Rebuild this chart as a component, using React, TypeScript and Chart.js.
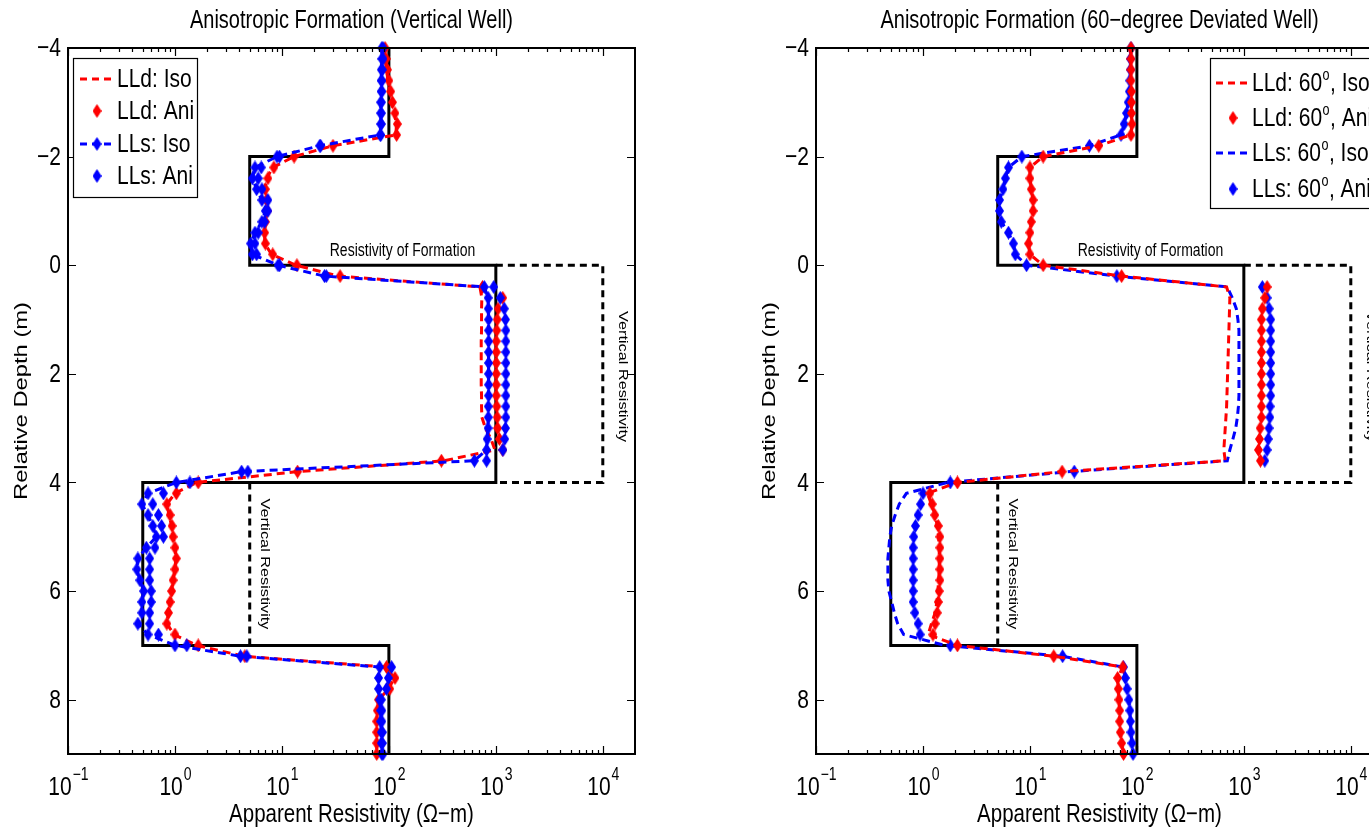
import React, { useEffect, useRef } from "react";
import { Chart, registerables } from "chart.js";

Chart.register(...registerables);

// ---------- data ----------
const DEPTH = [
  -4.0, -3.8, -3.6, -3.4, -3.2, -3.0, -2.8, -2.6, -2.4, -2.2,
  -2.0, -1.8, -1.6, -1.4, -1.2, -1.0, -0.8, -0.6, -0.4, -0.2,
  0.0, 0.2, 0.4, 0.6, 0.8, 1.0, 1.2, 1.4, 1.6, 1.8,
  2.0, 2.2, 2.4, 2.6, 2.8, 3.0, 3.2, 3.4, 3.6, 3.8,
  4.0, 4.2, 4.4, 4.6, 4.8, 5.0, 5.2, 5.4, 5.6, 5.8,
  6.0, 6.2, 6.4, 6.6, 6.8, 7.0, 7.2, 7.4, 7.6, 7.8,
  8.0, 8.2, 8.4, 8.6, 8.8, 9.0,
];

// Vertical well
const V_LLD_ISO = [
  90, 92, 95, 98, 102, 106, 112, 118, 116, 30,
  13, 8.2, 7.2, 6.9, 7.1, 7.2, 7.0, 6.9, 6.9, 8.0,
  13.5, 34, 710, 740, 735, 735, 735, 730, 730, 730,
  730, 730, 735, 735, 740, 800, 900, 980, 330, 14,
  1.6, 1.0, 0.84, 0.88, 0.93, 0.96, 1.0, 1.02, 1.0, 0.96,
  0.93, 0.9, 0.87, 0.84, 0.98, 1.6, 4.4, 95, 112, 100,
  80, 78, 77, 77, 77, 77,
];
const V_LLD_ANI = [
  92, 94, 97, 100, 104, 108, 114, 120, 118, 30,
  13, 8.4, 7.4, 7.0, 7.2, 7.3, 7.0, 6.9, 7.0, 8.2,
  13.8, 35, 750, 1160, 1050, 1030, 1020, 1010, 1010, 1010,
  1010, 1010, 1010, 1020, 1030, 1040, 1080, 1160, 310, 14,
  1.65, 1.03, 0.84, 0.9, 0.94, 0.96, 1.0, 1.03, 1.0, 0.96,
  0.93, 0.9, 0.87, 0.84, 1.0, 1.65, 4.5, 95, 114, 102,
  80, 78, 77, 77, 77, 77,
];
const V_LLS_ISO = [
  86, 86, 85, 85, 85, 84, 84, 84, 83, 22.6,
  9.0, 5.6, 5.3, 5.8, 6.5, 7.0, 6.5, 5.6, 5.1, 5.3,
  9.2, 25, 780, 848, 850, 855, 855, 855, 855, 855,
  855, 855, 855, 850, 850, 845, 830, 820, 630, 4.2,
  1.03, 0.56, 0.49, 0.56, 0.62, 0.67, 0.54, 0.45, 0.44, 0.47,
  0.51, 0.49, 0.49, 0.45, 0.56, 1.0, 4.1, 82, 80, 80,
  82, 84, 84, 85, 85, 86,
];
const V_LLS_ANI = [
  88, 88, 87, 86, 86, 85, 85, 85, 84, 23,
  9.5, 6.4, 6.0, 6.5, 7.4, 7.4, 6.9, 6.0, 5.6, 5.8,
  9.5, 26, 955, 1100, 1200, 1230, 1240, 1240, 1240, 1240,
  1240, 1240, 1240, 1240, 1240, 1230, 1210, 1165, 820, 4.8,
  1.38, 0.78, 0.62, 0.7, 0.75, 0.78, 0.65, 0.58, 0.58, 0.58,
  0.6, 0.6, 0.58, 0.58, 0.7, 1.29, 4.7, 106, 99, 95,
  85, 86, 86, 87, 87, 88,
];

// 60-degree deviated well
const D_LLD_ISO = [
  88, 88, 88, 88, 89, 89, 89, 90, 88, 44,
  13.3, 10.0, 10.0, 10.3, 10.7, 10.7, 10.3, 10.0, 9.7, 10.0,
  13.3, 72, 690, 740, 735, 730, 725, 720, 715, 710,
  705, 700, 695, 690, 680, 670, 660, 650, 670, 20,
  2.1, 1.1, 1.2, 1.3, 1.36, 1.4, 1.42, 1.42, 1.42, 1.4,
  1.38, 1.35, 1.3, 1.2, 1.12, 2.1, 16.7, 74, 66, 67,
  68, 69, 69, 70, 72, 75,
];
const D_LLD_ANI = [
  88, 88, 88, 88, 89, 89, 89, 90, 88, 44,
  13.3, 10.0, 10.0, 10.3, 10.7, 10.7, 10.3, 10.0, 9.7, 10.0,
  13.3, 72, 1650, 1570, 1490, 1460, 1460, 1460, 1460, 1460,
  1460, 1460, 1460, 1460, 1460, 1420, 1400, 1370, 1430, 20,
  2.1, 1.16, 1.22, 1.29, 1.39, 1.44, 1.44, 1.44, 1.44, 1.44,
  1.42, 1.39, 1.36, 1.3, 1.24, 2.1, 16.7, 74, 66, 67,
  68, 69, 69, 70, 72, 75,
];
const D_LLS_ISO = [
  88, 87, 87, 86, 85, 83, 80, 76, 71, 36,
  8.4, 6.3, 5.9, 5.6, 5.2, 5.2, 5.4, 6.3, 7.0, 7.3,
  9.3, 65, 700, 780, 850, 880, 900, 900, 900, 900,
  900, 900, 900, 890, 870, 840, 790, 740, 700, 24,
  1.7, 0.7, 0.6, 0.55, 0.51, 0.49, 0.48, 0.47, 0.47, 0.47,
  0.48, 0.51, 0.54, 0.58, 0.66, 1.6, 20, 75, 78, 81,
  84, 86, 87, 88, 90, 92,
];
const D_LLS_ANI = [
  88, 87, 87, 86, 85, 83, 80, 76, 71, 36,
  8.4, 6.3, 5.9, 5.6, 5.2, 5.2, 5.4, 6.3, 7.0, 7.3,
  9.3, 65, 1490, 1650, 1725, 1780, 1780, 1780, 1780, 1780,
  1780, 1780, 1780, 1760, 1750, 1720, 1690, 1650, 1570, 26,
  1.8, 1.0, 0.95, 0.9, 0.85, 0.82, 0.81, 0.81, 0.81, 0.81,
  0.81, 0.81, 0.84, 0.9, 0.94, 1.8, 20.2, 75, 78, 81,
  84, 86, 87, 88, 90, 92,
];

// Formation model
const FORMATION_DEPTH = [-4, -2, -2, 0, 0, 4, 4, 7, 7, 9];
const FORMATION_RES = [100, 100, 5, 5, 1000, 1000, 0.5, 0.5, 100, 100];
const VERT_RES_A_DEPTH = [0, 0, 4, 4];
const VERT_RES_A = [1000, 10000, 10000, 1000];
const VERT_RES_B_DEPTH = [4, 7];
const VERT_RES_B = [5, 5];

// Axes
const X_MIN = 0.1;
const X_MAX = 20000;
const Y_MIN = -4;
const Y_MAX = 9;
const X_TICK_VALUES = [0.1, 1, 10, 100, 1000, 10000];
const X_TICK_EXPONENTS = ["\u22121", "0", "1", "2", "3", "4"];
const Y_TICK_VALUES = [-4, -2, 0, 2, 4, 6, 8];
const Y_TICK_LABELS = ["\u22124", "\u22122", "0", "2", "4", "6", "8"];

const TITLES = [
  "Anisotropic Formation (Vertical Well)",
  "Anisotropic Formation (60\u2212degree Deviated Well)",
];
const X_LABEL = "Apparent Resistivity (\u03A9\u2212m)";
const Y_LABEL = "Relative Depth (m)";
const LEGEND_V = ["LLd: Iso", "LLd: Ani", "LLs: Iso", "LLs: Ani"];
const LEGEND_D = ["LLd: 60\u00B0, Iso", "LLd: 60\u00B0, Ani", "LLs: 60\u00B0, Iso", "LLs: 60\u00B0, Ani"];
const ANNOT_FORMATION = "Resistivity of Formation";
const ANNOT_VERTICAL = "Vertical Resistivity";

// ---------- styling ----------
const RED = "#ff0000";
const BLUE = "#0000ff";
const FONT = '"Liberation Sans", Arial, Helvetica, sans-serif';
const SY = 1.25;
const CW = 684;
const CH = 828;

function makeDiamond(color: string, w: number, h: number) {
  const c = document.createElement("canvas");
  c.width = w;
  c.height = h;
  const g = c.getContext("2d")!;
  g.fillStyle = color;
  g.beginPath();
  g.moveTo(w / 2, 0);
  g.lineTo(w, h / 2);
  g.lineTo(w / 2, h);
  g.lineTo(0, h / 2);
  g.closePath();
  g.fill();
  return c;
}

function txt(
  ctx: CanvasRenderingContext2D,
  s: string,
  x: number,
  y: number,
  size: number,
  align: CanvasTextAlign = "left",
  baseline: CanvasTextBaseline = "alphabetic",
  rot = 0
) {
  ctx.save();
  ctx.translate(x, y);
  ctx.scale(1, SY);
  if (rot) ctx.rotate(rot);
  ctx.font = `${size}px ${FONT}`;
  ctx.textAlign = align;
  ctx.textBaseline = baseline;
  ctx.fillStyle = "#000";
  ctx.fillText(s, 0, 0);
  ctx.restore();
}

function measure(ctx: CanvasRenderingContext2D, s: string, size: number) {
  ctx.save();
  ctx.font = `${size}px ${FONT}`;
  const w = ctx.measureText(s).width;
  ctx.restore();
  return w;
}

function legendText(ctx: CanvasRenderingContext2D, s: string, x: number, y: number, size: number) {
  const parts = s.split("\u00B0");
  let cx = x;
  parts.forEach((p, i) => {
    txt(ctx, p, cx, y, size, "left", "middle");
    cx += measure(ctx, p, size);
    if (i < parts.length - 1) {
      const ss = size * 0.6;
      txt(ctx, "o", cx + 0.5, y - 8, ss, "left", "middle");
      cx += measure(ctx, "o", ss) + 1;
    }
  });
}

function pts(xs: number[], ys: number[]) {
  return ys.map((y, i) => ({ x: xs[i], y }));
}

type LegendSpec = {
  x: number;
  y: number;
  w: number;
  h: number;
  rows: number[];
  lineX0: number;
  lineX1: number;
  markX: number;
  textX: number;
  labels: string[];
  entries: { color: string; line: boolean; marker: boolean }[];
};

function makePlugin(idx: number, legend: LegendSpec, diamonds: Record<string, HTMLCanvasElement>) {
  return {
    id: "decor" + idx,
    afterDraw(chart: any) {
      const ctx: CanvasRenderingContext2D = chart.ctx;
      const a = chart.chartArea;
      const xs = chart.scales.x;
      const ys = chart.scales.y;
      ctx.save();
      // box
      ctx.strokeStyle = "#000";
      ctx.lineWidth = 2;
      ctx.strokeRect(a.left, a.top, a.right - a.left, a.bottom - a.top);
      // ticks
      ctx.lineWidth = 1.2;
      ctx.beginPath();
      for (let d = -1; d <= 4; d++) {
        for (let m = 1; m <= 9; m++) {
          const v = m * Math.pow(10, d);
          if (v < X_MIN || v >= X_MAX) continue;
          const px = Math.round(xs.getPixelForValue(v)) + 0.5;
          const len = m === 1 ? 8 : 4;
          ctx.moveTo(px, a.bottom);
          ctx.lineTo(px, a.bottom - len);
          ctx.moveTo(px, a.top);
          ctx.lineTo(px, a.top + len);
        }
      }
      Y_TICK_VALUES.forEach((v) => {
        const py = Math.round(ys.getPixelForValue(v)) + 0.5;
        ctx.moveTo(a.left, py);
        ctx.lineTo(a.left + 8, py);
        ctx.moveTo(a.right, py);
        ctx.lineTo(a.right - 8, py);
      });
      ctx.stroke();

      // tick labels
      X_TICK_VALUES.forEach((v, i) => {
        const px = xs.getPixelForValue(v);
        const wb = measure(ctx, "10", 21);
        const we = measure(ctx, X_TICK_EXPONENTS[i], 14);
        const x0 = px - (wb + we) / 2;
        txt(ctx, "10", x0, 795, 21);
        txt(ctx, X_TICK_EXPONENTS[i], x0 + wb + 1, 780, 14);
      });
      Y_TICK_VALUES.forEach((v, i) => {
        const py = ys.getPixelForValue(v);
        txt(ctx, Y_TICK_LABELS[i], a.left - 7, py + 1, 21, "right", "middle");
      });

      // titles and axis labels
      const cx = (a.left + a.right) / 2;
      txt(ctx, TITLES[idx], cx, 28, 20, "center");
      txt(ctx, X_LABEL, cx, 822, 20.5, "center");
      txt(ctx, Y_LABEL, 22, (a.top + a.bottom) / 2, 19, "center", "middle", -Math.PI / 2);

      // annotations
      txt(ctx, ANNOT_FORMATION, xs.getPixelForValue(28), ys.getPixelForValue(-0.17), 14, "left");
      txt(ctx, ANNOT_VERTICAL, xs.getPixelForValue(10000) + 20, ys.getPixelForValue(2.05), 13, "center", "middle", Math.PI / 2);
      txt(ctx, ANNOT_VERTICAL, xs.getPixelForValue(5) + 15, ys.getPixelForValue(5.5), 13, "center", "middle", Math.PI / 2);

      // legend
      ctx.fillStyle = "#fff";
      ctx.fillRect(legend.x, legend.y, legend.w, legend.h);
      ctx.strokeStyle = "#000";
      ctx.lineWidth = 1.2;
      ctx.strokeRect(legend.x + 0.5, legend.y + 0.5, legend.w, legend.h);
      legend.entries.forEach((e, i) => {
        const y = legend.rows[i];
        if (e.line) {
          ctx.save();
          ctx.strokeStyle = e.color;
          ctx.lineWidth = 3;
          ctx.setLineDash([7, 5]);
          ctx.beginPath();
          ctx.moveTo(legend.lineX0, y);
          ctx.lineTo(legend.lineX1, y);
          ctx.stroke();
          ctx.restore();
        }
        if (e.marker) {
          const img = diamonds[e.color];
          ctx.drawImage(img, legend.markX - img.width / 2, y - img.height / 2);
        }
        legendText(ctx, legend.labels[i], legend.textX, y + 1, 21);
      });
      ctx.restore();
    },
  };
}

function buildConfig(idx: number) {
  const redD = makeDiamond(RED, 9, 14);
  const blueD = makeDiamond(BLUE, 9, 14);
  const diamonds: Record<string, HTMLCanvasElement> = { [RED]: redD, [BLUE]: blueD };
  const isV = idx === 0;
  const lldIso = isV ? V_LLD_ISO : D_LLD_ISO;
  const lldAni = isV ? V_LLD_ANI : D_LLD_ANI;
  const llsIso = isV ? V_LLS_ISO : D_LLS_ISO;
  const llsAni = isV ? V_LLS_ANI : D_LLS_ANI;
  const labels = isV ? LEGEND_V : LEGEND_D;

  const dashed = (color: string) => ({
    showLine: true,
    borderColor: color,
    backgroundColor: color,
    borderWidth: 3,
    borderDash: [8, 5],
    pointRadius: 0,
    clip: false as any,
  });
  const markers = (img: HTMLCanvasElement) => ({
    showLine: false,
    pointStyle: img,
    pointRadius: 4,
    clip: false as any,
  });

  const datasets: any[] = [
    { label: labels[3], data: pts(llsAni, DEPTH), ...markers(blueD), order: isV ? 0 : 2 },
    isV
      ? { label: labels[2], data: pts(llsIso, DEPTH), ...dashed(BLUE), pointStyle: blueD, pointRadius: 4, order: 1 }
      : { label: labels[2], data: pts(llsIso, DEPTH), ...dashed(BLUE), order: 3 },
    { label: labels[1], data: pts(lldAni, DEPTH), ...markers(redD), order: isV ? 2 : 0 },
    { label: labels[0], data: pts(lldIso, DEPTH), ...dashed(RED), order: isV ? 3 : 1 },
    {
      label: "Formation",
      data: pts(FORMATION_RES, FORMATION_DEPTH),
      showLine: true,
      borderColor: "#000",
      borderWidth: 3,
      pointRadius: 0,
      order: 10,
      clip: false,
    },
    {
      label: "Vertical A",
      data: pts(VERT_RES_A, VERT_RES_A_DEPTH),
      showLine: true,
      borderColor: "#000",
      borderWidth: 3,
      borderDash: [7, 5],
      pointRadius: 0,
      order: 11,
      clip: false,
    },
    {
      label: "Vertical B",
      data: pts(VERT_RES_B, VERT_RES_B_DEPTH),
      showLine: true,
      borderColor: "#000",
      borderWidth: 3,
      borderDash: [7, 5],
      pointRadius: 0,
      order: 11,
      clip: false,
    },
  ];

  const legend: LegendSpec = isV
    ? {
        x: 73, y: 58, w: 124, h: 139,
        rows: [79, 111, 144, 176],
        lineX0: 80, lineX1: 114, markX: 97, textX: 117,
        labels,
        entries: [
          { color: RED, line: true, marker: false },
          { color: RED, line: false, marker: true },
          { color: BLUE, line: true, marker: true },
          { color: BLUE, line: false, marker: true },
        ],
      }
    : {
        x: 462, y: 58, w: 260, h: 150,
        rows: [83, 118, 153, 189],
        lineX0: 468, lineX1: 502, markX: 485, textX: 504,
        labels,
        entries: [
          { color: RED, line: true, marker: false },
          { color: RED, line: false, marker: true },
          { color: BLUE, line: true, marker: false },
          { color: BLUE, line: false, marker: true },
        ],
      };

  return {
    type: "scatter" as const,
    data: { datasets },
    options: {
      animation: false as const,
      responsive: false,
      maintainAspectRatio: false,
      devicePixelRatio: 1,
      events: [] as any[],
      layout: { padding: { top: 48, right: CW - 635, left: 0, bottom: 0 } },
      plugins: {
        legend: { display: false },
        tooltip: { enabled: false },
        title: { display: false },
      },
      scales: {
        x: {
          type: "logarithmic" as const,
          min: X_MIN,
          max: X_MAX,
          ticks: { display: false },
          grid: { display: false },
          border: { display: false },
          afterFit: (s: any) => {
            s.height = CH - 754;
          },
        },
        y: {
          type: "linear" as const,
          min: Y_MIN,
          max: Y_MAX,
          reverse: true,
          ticks: { display: false },
          grid: { display: false },
          border: { display: false },
          afterFit: (s: any) => {
            s.width = 68;
          },
        },
      },
    },
    plugins: [makePlugin(idx, legend, diamonds)],
  };
}

export default function App() {
  const leftRef = useRef<HTMLCanvasElement>(null);
  const rightRef = useRef<HTMLCanvasElement>(null);
  useEffect(() => {
    const c1 = new Chart(leftRef.current as HTMLCanvasElement, buildConfig(0) as any);
    const c2 = new Chart(rightRef.current as HTMLCanvasElement, buildConfig(1) as any);
    return () => {
      c1.destroy();
      c2.destroy();
    };
  }, []);
  return (
    <div
      style={{
        position: "fixed",
        left: 0,
        top: 0,
        width: 1369,
        height: 828,
        overflow: "hidden",
        background: "#fff",
      }}
    >
      <canvas
        ref={leftRef}
        width={CW}
        height={CH}
        style={{ position: "absolute", left: 0, top: 0, width: CW, height: CH }}
      />
      <canvas
        ref={rightRef}
        width={CW}
        height={CH}
        style={{ position: "absolute", left: 748, top: 0, width: CW, height: CH }}
      />
    </div>
  );
}
